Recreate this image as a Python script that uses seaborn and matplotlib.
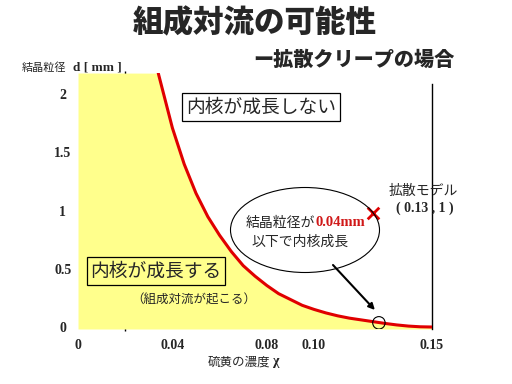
import matplotlib
matplotlib.use('Agg')
import matplotlib.pyplot as plt
import seaborn as sns
import numpy as np
import pandas as pd
from matplotlib.patches import Ellipse

# ---- data ----
sulfur = [0.034, 0.040, 0.045, 0.050, 0.055, 0.060, 0.065, 0.070, 0.075,
          0.080, 0.085, 0.090, 0.095, 0.100, 0.105, 0.110, 0.115, 0.120,
          0.125, 0.130, 0.135, 0.140, 0.145, 0.150]
grain = [2.18, 1.71, 1.40, 1.15, 0.95, 0.79, 0.65, 0.53, 0.44,
         0.36, 0.29, 0.24, 0.19, 0.155, 0.125, 0.10, 0.08, 0.065,
         0.05, 0.035, 0.022, 0.012, 0.006, 0.004]
xticks = [0, 0.04, 0.08, 0.10, 0.15]
xticklabels = ['0', '0.04', '0.08', '0.10', '0.15']
yticks = [0, 0.5, 1, 1.5, 2]
yticklabels = ['0', '0.5', '1', '1.5', '2']
minor_xticks = [0.02, 0.10]
model_x, model_y = [0.125], [0.98]
mark_x, mark_y = [0.1275], [0.04]

sns.set_style('white')
plt.rcParams['font.family'] = ['Noto Sans CJK JP', 'DejaVu Sans']

W, H = 512, 384
fig = plt.figure(figsize=(W / 100, H / 100), dpi=100)
ax = fig.add_axes([78 / W, 1 - 329 / H, 354 / W, 256 / H])
ymin, ymax = -0.013, 2.181
ax.set_xlim(0, 0.15)
ax.set_ylim(ymin, ymax)

def ftext(x, y, s, **kw):
    return fig.text(x / W, 1 - y / H, s, **kw)

# yellow region (inner core grows)
fx = [0.0] + sulfur
fy = [ymax] + grain
ax.fill_between(fx, ymin, fy, color='#FFFF8C', lw=0, zorder=1)

df = pd.DataFrame({'x': sulfur, 'y': grain})
sns.lineplot(data=df, x='x', y='y', color='#E00000', lw=2.2, ax=ax, zorder=3,
             sort=False)
sns.scatterplot(x=model_x, y=model_y, marker='x', s=70, color='#E00000',
                linewidth=2, ax=ax, zorder=5)
ax.scatter(mark_x, mark_y, s=80, facecolors='none', edgecolors='black',
           linewidths=0.8, zorder=5)

# axes styling
for side in ['top', 'left', 'bottom']:
    ax.spines[side].set_visible(False)
ax.spines['right'].set_visible(True)
ax.spines['right'].set_color('black')
ax.spines['right'].set_linewidth(1.0)
ax.spines['right'].set_bounds(ymin, 2.09)

ax.set_xticks(xticks)
ax.set_xticklabels(xticklabels, family='Liberation Serif', fontweight='bold',
                   fontsize=10)
ax.set_yticks(yticks)
ax.set_yticklabels(yticklabels, family='Liberation Serif', fontweight='bold',
                   fontsize=10)
for lab in ax.get_yticklabels():
    lab.set_horizontalalignment('center')
ax.tick_params(axis='both', which='major', length=0)
ax.tick_params(axis='y', pad=11)
ax.tick_params(axis='x', pad=7)
ax.set_xticks(minor_xticks, minor=True)
ax.tick_params(axis='x', which='minor', length=3, width=1, color='black',
               top=True, bottom=True, direction='inout')
ax.set_xlabel('')
ax.set_ylabel('')
ax.grid(False)

# titles
ftext(255, 23, '組成対流の可能性', fontsize=22, fontweight='heavy',
      ha='center', va='center')
ftext(354, 60, 'ー拡散クリープの場合', fontsize=14.5, fontweight='heavy',
      ha='center', va='center')

# axis labels
ftext(22, 68, '結晶粒径', fontsize=8, ha='left', va='center')
ftext(73, 67, 'd [ mm ]', family='Liberation Serif', fontweight='bold',
      fontsize=9.5, ha='left', va='center')
ftext(270, 362, '硫黄の濃度', fontsize=9, ha='right', va='center')
ftext(273, 362, 'χ', family='Liberation Serif', fontweight='bold',
      fontsize=10, ha='left', va='center')

# region labels
ftext(261, 107, '内核が成長しない', fontsize=13.5, ha='center', va='center',
      bbox=dict(boxstyle='square,pad=0.2', facecolor='white',
                edgecolor='black', lw=0.9))
ftext(156, 271, '内核が成長する', fontsize=13.5, ha='center', va='center',
      bbox=dict(boxstyle='square,pad=0.2', facecolor='none',
                edgecolor='black', lw=0.9))
ftext(194, 300, '（組成対流が起こる）', fontsize=9, ha='center', va='center')

# ellipse callout
ell = Ellipse((305 / W, 1 - 230 / H), 149 / W, 85 / H, transform=fig.transFigure,
              facecolor='none', edgecolor='black', lw=0.8, zorder=4)
fig.patches.append(ell)
ftext(246, 223, '結晶粒径が', fontsize=10, ha='left', va='center')
ftext(316, 222, '0.04mm', family='Liberation Serif', fontweight='bold',
      color='#D01818', fontsize=10.5, ha='left', va='center')
ftext(251, 242, '以下で内核成長', fontsize=10, ha='left', va='center')
ax.annotate('', xy=(0.1258, 0.15), xycoords='data',
            xytext=(333 / W, 1 - 265 / H), textcoords='figure fraction',
            arrowprops=dict(arrowstyle='-|>', color='black', lw=1.5,
                            mutation_scale=9, shrinkA=0, shrinkB=0))

# model label
ftext(389, 191, '拡散モデル', fontsize=10, ha='left', va='center')
ftext(396, 208, '( 0.13 , 1 )', family='Liberation Serif', fontweight='bold',
      fontsize=10, ha='left', va='center')

fig.savefig('out.png', dpi=100)
